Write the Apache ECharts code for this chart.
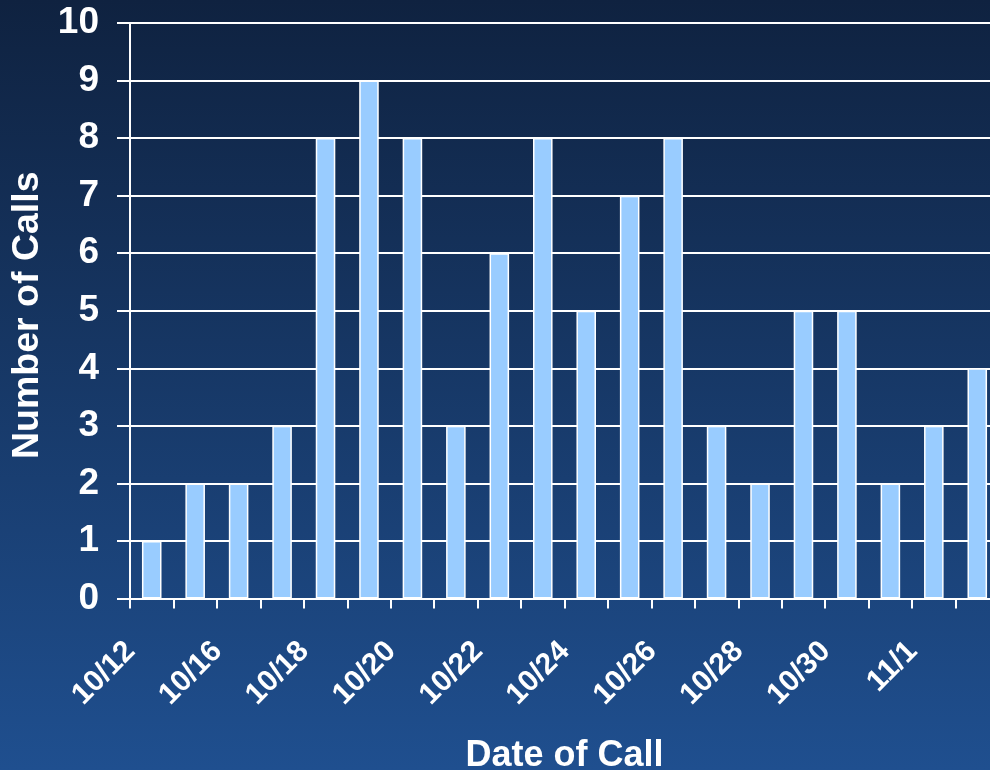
<!DOCTYPE html>
<html>
<head>
<meta charset="utf-8">
<script src="https://cdn.jsdelivr.net/npm/echarts@6/dist/echarts.min.js"></script>
<style>
html,body{margin:0;padding:0;}
#c{width:990px;height:770px;}
</style>
</head>
<body>
<div id="c"></div>
<script>
var categories = ['10/12','10/14','10/16','10/17','10/18','10/19','10/20','10/21','10/22','10/23','10/24','10/25','10/26','10/27','10/28','10/29','10/30','10/31','11/1','11/2'];
var calls = [1,2,2,3,8,9,8,3,6,8,5,7,8,3,2,5,5,2,3,4];
var yTicks = [0,1,2,3,4,5,6,7,8,9,10];

var FONT = '"Liberation Sans", Arial, sans-serif';
var chart = echarts.init(document.getElementById('c'));
chart.setOption({
  backgroundColor: new echarts.graphic.LinearGradient(0,0,0,1,[
    {offset:0,color:'#0f2240'},
    {offset:1,color:'#1f4f8f'}
  ]),
  animation:false,
  grid:{left:130,top:23,bottom:171.5,right:-9,containLabel:false,outerBoundsMode:'none'},
  xAxis:{
    type:'category',
    data:categories,
    boundaryGap:true,
    name:'Date of Call',
    nameLocation:'middle',
    nameGap:140,
    nameTextStyle:{color:'#ffffff',fontFamily:FONT,fontWeight:'bold',fontSize:36},
    axisLine:{show:true,lineStyle:{color:'#ffffff',width:2}},
    axisTick:{show:true,alignWithLabel:false,interval:0,length:10,lineStyle:{color:'#ffffff',width:2}},
    axisLabel:{interval:1,rotate:45,margin:27,padding:[0,30,0,0],color:'#ffffff',fontFamily:FONT,fontWeight:'bold',fontSize:30},
    splitLine:{show:false}
  },
  yAxis:{
    type:'value',
    min:yTicks[0],
    max:yTicks[yTicks.length-1],
    interval:1,
    name:'Number of Calls',
    nameLocation:'middle',
    nameRotate:90,
    nameGap:82,
    nameTextStyle:{color:'#ffffff',fontFamily:FONT,fontWeight:'bold',fontSize:37.5,padding:[0,9,0,0]},
    axisLine:{show:true,lineStyle:{color:'#ffffff',width:2}},
    axisTick:{show:true,length:13,lineStyle:{color:'#ffffff',width:2}},
    axisLabel:{margin:31,color:'#ffffff',fontFamily:FONT,fontWeight:'bold',fontSize:37},
    splitLine:{show:true,lineStyle:{color:'#ffffff',width:2}}
  },
  series:[{
    type:'bar',
    data:calls,
    barWidth:'45%',
    itemStyle:{color:'#99ccff',borderColor:'#ffffff',borderWidth:1.5}
  }]
});
</script>
</body>
</html>
